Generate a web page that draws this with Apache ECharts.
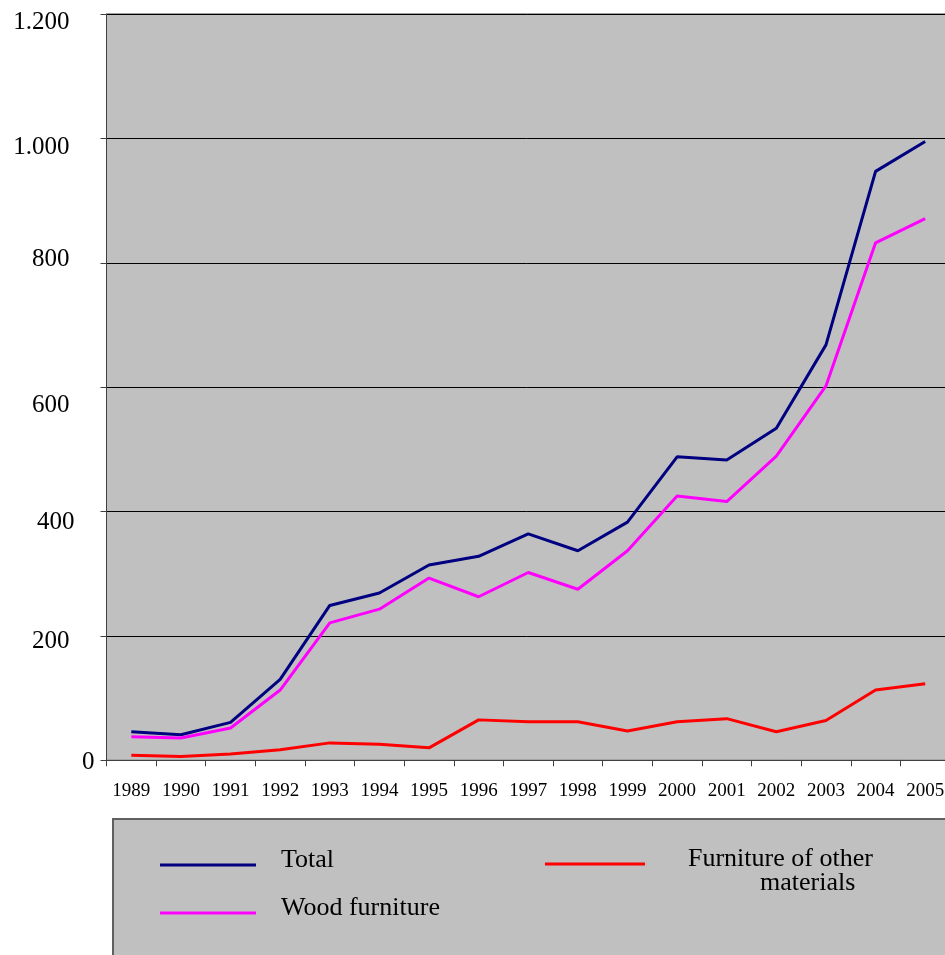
<!DOCTYPE html>
<html>
<head>
<meta charset="utf-8">
<script src="https://cdn.jsdelivr.net/npm/echarts@6/dist/echarts.min.js"></script>
<style>
  html, body { margin: 0; padding: 0; background: #ffffff; }
  #chart { width: 945px; height: 955px; }
</style>
</head>
<body>
<div id="chart"></div>
<script>
// Furniture exports by type, 1989-2005
const years = ['1989','1990','1991','1992','1993','1994','1995','1996','1997','1998','1999','2000','2001','2002','2003','2004','2005'];
const total = [46, 41, 61, 130, 249, 269, 314, 328, 364, 337, 383, 488, 483, 534, 668, 947, 995];
const wood  = [38, 36, 52, 113, 221, 243, 293, 263, 302, 275, 337, 425, 416, 489, 602, 832, 871];
const other = [8, 6, 10, 17, 28, 26, 20, 65, 62, 62, 47, 62, 67, 46, 64, 113, 123];
const yTicks = [0, 200, 400, 600, 800, 1000, 1200];

const serif = "'Liberation Serif', 'Times New Roman', serif";

// per-tick label placement: [shift down px, extra space to the right]
const tickPlacement = {0: [2, 0], 200: [6, 25], 400: [11, 20], 600: [18, 25], 800: [-3, 25], 1000: [9, 25], 1200: [8, 25]};
const yRich = {};
yTicks.forEach(v => {
  const p = tickPlacement[v];
  const d = p[0];
  yRich['t' + v] = {
    fontFamily: serif, fontSize: 25, color: '#000', lineHeight: 28,
    padding: [d > 0 ? 2 * d : 0, p[1], d < 0 ? -2 * d : 0, 0]
  };
});

function fmtThousands(v) {
  return String(v).replace(/\B(?=(\d{3})+(?!\d))/g, '.');
}

const chart = echarts.init(document.getElementById('chart'), null, { renderer: 'canvas' });

// legend label sits a little above its line sample
const legendRich = {
  a: { fontFamily: serif, fontSize: 26, color: '#000', lineHeight: 28 },
  s: { fontFamily: serif, fontSize: 10, color: 'rgba(0,0,0,0)', lineHeight: 10 }
};

chart.setOption({
  backgroundColor: '#ffffff',
  animation: false,
  graphic: [{
    type: 'rect',
    left: 112, top: 818, z: 0,
    shape: { width: 900, height: 200 },
    style: { fill: '#C0C0C0', stroke: '#606060', lineWidth: 2 }
  }],
  grid: {
    left: 106.5, top: 14, right: -5, bottom: 194.7,
    outerBoundsMode: 'none',
    containLabel: false,
    show: true, backgroundColor: '#C0C0C0', borderColor: '#404040', borderWidth: 1
  },
  xAxis: {
    type: 'category',
    data: years,
    boundaryGap: true,
    axisLine: { show: true, lineStyle: { color: '#404040', width: 1 } },
    axisTick: { show: true, length: 6, lineStyle: { color: '#404040' } },
    axisLabel: { fontFamily: serif, fontSize: 19, color: '#000', margin: 21, interval: 0 },
    splitLine: { show: false }
  },
  yAxis: {
    type: 'value',
    min: 0, max: 1200, interval: 200,
    axisLine: { show: true, lineStyle: { color: '#404040', width: 1 } },
    axisTick: { show: true, length: 6, lineStyle: { color: '#404040' } },
    axisLabel: {
      margin: 12,
      formatter: v => '{t' + v + '|' + fmtThousands(v) + '}',
      rich: yRich
    },
    splitLine: { show: true, lineStyle: { color: '#000000', width: 1 } }
  },
  legend: [
    {
      data: [{ name: 'Total' }],
      left: 160, top: 847, padding: 0,
      icon: 'rect', itemWidth: 96, itemHeight: 3,
      formatter: name => '{a|' + name + '}\n{s| }',
      textStyle: { padding: [0, 0, 0, 20], rich: legendRich },
      selectedMode: false
    },
    {
      data: [{ name: 'Wood furniture' }],
      left: 160, top: 895, padding: 0,
      icon: 'rect', itemWidth: 96, itemHeight: 3,
      formatter: name => '{a|' + name + '}\n{s| }',
      textStyle: { padding: [0, 0, 0, 20], rich: legendRich },
      selectedMode: false
    },
    {
      data: [{ name: 'Furniture of other materials' }],
      left: 545, top: 846, padding: 0,
      icon: 'rect', itemWidth: 100, itemHeight: 3,
      formatter: () => '{a|Furniture of other}\n{b|materials}',
      textStyle: {
        padding: [14, 0, 0, 38],
        rich: {
          a: { fontFamily: serif, fontSize: 26, color: '#000', lineHeight: 24 },
          b: { fontFamily: serif, fontSize: 26, color: '#000', lineHeight: 24, padding: [0, 0, 0, 72] }
        }
      },
      selectedMode: false
    }
  ],
  series: [
    {
      name: 'Total', type: 'line', data: total,
      showSymbol: false, symbol: 'none',
      lineStyle: { color: '#000080', width: 3 }, itemStyle: { color: '#000080' }
    },
    {
      name: 'Wood furniture', type: 'line', data: wood,
      showSymbol: false, symbol: 'none',
      lineStyle: { color: '#FF00FF', width: 3 }, itemStyle: { color: '#FF00FF' }
    },
    {
      name: 'Furniture of other materials', type: 'line', data: other,
      showSymbol: false, symbol: 'none',
      lineStyle: { color: '#FF0000', width: 3 }, itemStyle: { color: '#FF0000' }
    }
  ]
});
</script>
</body>
</html>
